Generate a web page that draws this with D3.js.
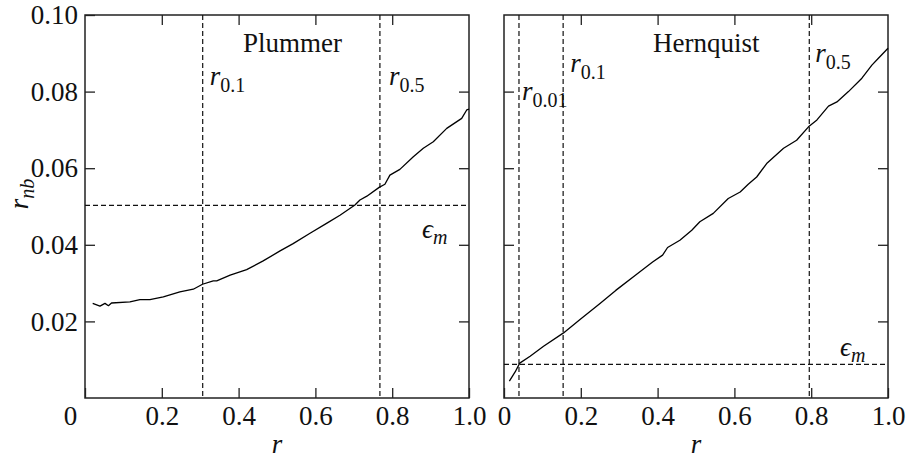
<!DOCTYPE html>
<html>
<head>
<meta charset="utf-8">
<script src="https://cdn.jsdelivr.net/npm/d3@7"></script>
<style>
  body { margin: 0; background: #fff; }
</style>
</head>
<body>
<div id="chart"></div>
<script>
// r values and r_nb values
const plummerR = [0.020, 0.039, 0.052, 0.061, 0.069, 0.117, 0.143, 0.169, 0.204, 0.247, 0.282, 0.306, 0.334, 0.343, 0.378, 0.421, 0.464, 0.508, 0.542, 0.586, 0.629, 0.664, 0.703, 0.716, 0.734, 0.766, 0.781, 0.794, 0.820, 0.855, 0.881, 0.907, 0.942, 0.981, 0.994, 1.0];
const plummerV = [0.0247, 0.0240, 0.0247, 0.0241, 0.0248, 0.0251, 0.0257, 0.0257, 0.0264, 0.0277, 0.0284, 0.0297, 0.0306, 0.0306, 0.0321, 0.0335, 0.0358, 0.0384, 0.0403, 0.0430, 0.0456, 0.0477, 0.0504, 0.0517, 0.0527, 0.0550, 0.0558, 0.0582, 0.0597, 0.0630, 0.0652, 0.0669, 0.0704, 0.0730, 0.0752, 0.0754];

const hernquistR = [0.014, 0.029, 0.041, 0.068, 0.103, 0.155, 0.198, 0.250, 0.291, 0.343, 0.387, 0.413, 0.426, 0.458, 0.489, 0.510, 0.545, 0.584, 0.615, 0.636, 0.658, 0.684, 0.728, 0.762, 0.793, 0.815, 0.845, 0.867, 0.897, 0.932, 0.958, 0.975, 1.0];
const hernquistV = [0.0044, 0.0068, 0.0091, 0.0109, 0.0135, 0.0170, 0.0205, 0.0247, 0.0281, 0.0321, 0.0355, 0.0373, 0.0393, 0.0412, 0.0438, 0.0460, 0.0482, 0.0521, 0.0538, 0.0558, 0.0577, 0.0612, 0.0652, 0.0673, 0.0708, 0.0726, 0.0762, 0.0773, 0.0800, 0.0835, 0.0869, 0.0887, 0.0913];

// reference lines: r at enclosed mass fractions, and epsilon_m
const plummerMarks = [{r: 0.3065, sub: "0.1"}, {r: 0.768, sub: "0.5"}];
const hernquistMarks = [{r: 0.039, sub: "0.01"}, {r: 0.154, sub: "0.1"}, {r: 0.795, sub: "0.5"}];
const plummerEps = 0.0503;
const hernquistEps = 0.0088;

const xTicks = [0, 0.2, 0.4, 0.6, 0.8, 1.0];
const yTicks = [0.02, 0.04, 0.06, 0.08, 0.10];

const width = 909;
const height = 458;
const serif = "Liberation Serif";

const svg = d3.select("#chart").append("svg")
  .attr("width", width)
  .attr("height", height);

const y = d3.scaleLinear().domain([0, 0.1]).range([398, 15]);

function panel(opts) {
  const x = d3.scaleLinear().domain([0, 1]).range([opts.left, opts.left + 384]);
  const g = svg.append("g");

  // ticks pointing inward on all four sides
  const bottom = g.append("g")
    .attr("transform", `translate(0,${y(0)})`)
    .call(d3.axisBottom(x).tickValues(xTicks).tickSize(-10).tickPadding(8)
      .tickFormat(d => d === 0 ? "0" : d3.format(".1f")(d)));
  bottom.selectAll("text").attr("font-size", 27).attr("dy", "0.71em");
  if (opts.shiftZero) {
    bottom.selectAll("text").filter(d => d === 0).attr("x", -15);
  }

  g.append("g")
    .attr("transform", `translate(0,${y(0.1)})`)
    .call(d3.axisTop(x).tickValues(xTicks.slice(1, -1)).tickSize(-10).tickFormat(""));

  const left = g.append("g")
    .attr("transform", `translate(${x(0)},0)`)
    .call(d3.axisLeft(y).tickValues(opts.yLabels ? yTicks : yTicks.slice(0, -1))
      .tickSize(-10).tickPadding(7)
      .tickFormat(opts.yLabels ? d3.format(".2f") : ""));
  left.selectAll("text").attr("font-size", 27);

  g.append("g")
    .attr("transform", `translate(${x(1)},0)`)
    .call(d3.axisRight(y).tickValues(yTicks.slice(0, -1)).tickSize(-10).tickFormat(""));

  g.selectAll(".domain").remove();
  g.selectAll(".tick line").attr("stroke", "#222").attr("stroke-width", 1.3);

  g.append("rect")
    .attr("x", x(0)).attr("y", y(0.1))
    .attr("width", x(1) - x(0)).attr("height", y(0) - y(0.1))
    .attr("fill", "none").attr("stroke", "#222").attr("stroke-width", 1.5);

  // dashed reference lines
  g.selectAll(".vline").data(opts.marks).join("line")
    .attr("x1", d => x(d.r)).attr("x2", d => x(d.r))
    .attr("y1", y(0.1)).attr("y2", y(0))
    .attr("stroke", "#111").attr("stroke-width", 1.2).attr("stroke-dasharray", "5,3");

  g.append("line")
    .attr("x1", x(0)).attr("x2", x(1))
    .attr("y1", y(opts.eps)).attr("y2", y(opts.eps))
    .attr("stroke", "#111").attr("stroke-width", 1.2).attr("stroke-dasharray", "5,3");

  // curve
  const pts = opts.r.map((d, i) => [d, opts.v[i]]);
  g.append("path")
    .datum(pts)
    .attr("fill", "none")
    .attr("stroke", "#000")
    .attr("stroke-width", 1.3)
    .attr("stroke-linejoin", "round")
    .attr("d", d3.line().x(d => x(d[0])).y(d => y(d[1])));

  // labels for the reference lines
  g.selectAll(".mlabel").data(opts.marks).join("text")
    .attr("x", (d, i) => x(d.r) + opts.labelDx[i])
    .attr("y", (d, i) => opts.labelY[i])
    .attr("font-size", 27)
    .call(t => {
      t.append("tspan").attr("font-style", "italic").text("r");
      t.append("tspan").attr("font-size", 20).attr("dy", 7).text(d => d.sub);
    });

  g.append("text")
    .attr("x", opts.epsX).attr("y", opts.epsY)
    .attr("font-size", 27)
    .call(t => {
      t.append("tspan").attr("font-style", "italic").text("\u03F5");
      t.append("tspan").attr("font-style", "italic").attr("font-size", 20).attr("dy", 6).text("m");
    });

  g.append("text")
    .attr("x", opts.titleX).attr("y", 52)
    .attr("font-size", 27)
    .text(opts.title);

  g.append("text")
    .attr("x", (x(0) + x(1)) / 2).attr("y", 453)
    .attr("text-anchor", "middle")
    .attr("font-size", 27).attr("font-style", "italic")
    .text("r");
}

panel({
  left: 85, r: plummerR, v: plummerV, marks: plummerMarks, eps: plummerEps,
  yLabels: true, shiftZero: true, title: "Plummer", titleX: 243,
  labelDx: [7, 9], labelY: [85, 85], epsX: 422, epsY: 238
});

panel({
  left: 504, r: hernquistR, v: hernquistV, marks: hernquistMarks, eps: hernquistEps,
  yLabels: false, shiftZero: false, title: "Hernquist", titleX: 653,
  labelDx: [3, 7, 6], labelY: [100, 72, 62], epsX: 840, epsY: 356
});

// y axis title
svg.append("text")
  .attr("transform", "translate(28,194) rotate(-90)")
  .attr("text-anchor", "middle")
  .attr("font-size", 27)
  .call(t => {
    t.append("tspan").attr("font-style", "italic").text("r");
    t.append("tspan").attr("font-style", "italic").attr("font-size", 20).attr("dy", 6).text("nb");
  });

svg.selectAll("text")
  .attr("font-family", serif)
  .style("font-family", serif)
  .attr("fill", "#111");
</script>
</body>
</html>
